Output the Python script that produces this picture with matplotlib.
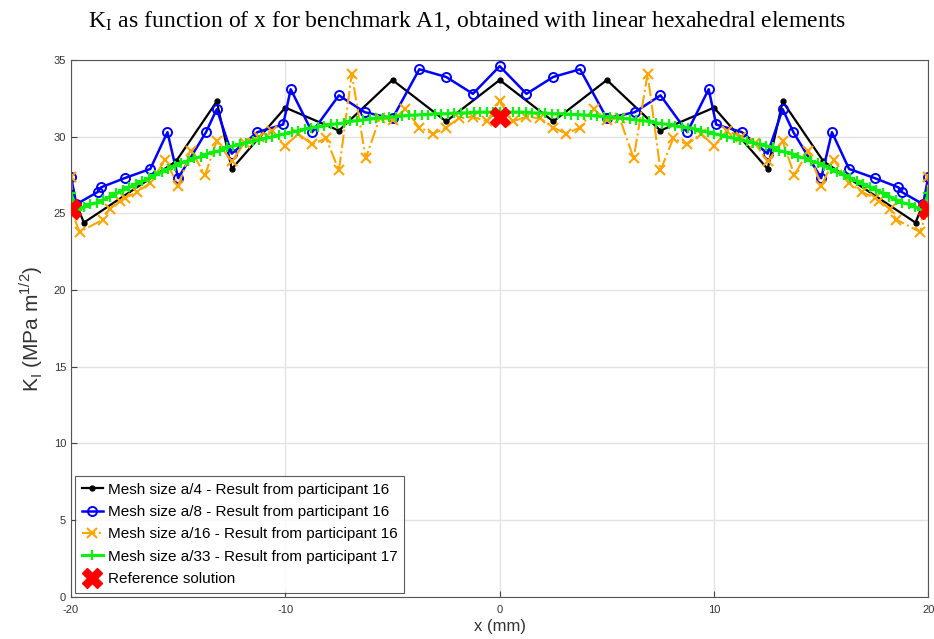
import numpy as np
import matplotlib
matplotlib.use("Agg")
import matplotlib.pyplot as plt

plt.rcParams['font.family'] = ['Liberation Sans', 'DejaVu Sans']
plt.rcParams['mathtext.fontset'] = 'custom'
plt.rcParams['mathtext.rm'] = 'Liberation Sans'
plt.rcParams['axes.unicode_minus'] = False

# Mesh size a/4 - participant 16
x_a4 = [-20, -19.4, -15.1, -13.2, -12.5, -10, -7.5, -5, -2.5, 0,
        2.5, 5, 7.5, 10, 12.5, 13.2, 15.1, 19.4, 20]
k_a4 = [26.5, 24.4, 28.4, 32.3, 27.9, 31.9, 30.4, 33.7, 31.0, 33.7,
        31.0, 33.7, 30.4, 31.9, 27.9, 32.3, 28.4, 24.4, 26.5]

# Mesh size a/8 - participant 16
x_a8 = [-20, -19.75, -18.75, -18.6, -17.5, -16.3, -15.5, -15.0, -13.7, -13.2,
        -12.5, -11.3, -10.1, -9.75, -8.75, -7.5, -6.3, -5.0, -3.75, -2.5,
        -1.25, 0,
        1.25, 2.5, 3.75, 5.0, 6.3, 7.5, 8.75, 9.75, 10.1, 11.3,
        12.5, 13.2, 13.7, 15.0, 15.5, 16.3, 17.5, 18.6, 18.75, 19.75, 20]
k_a8 = [27.4, 25.6, 26.4, 26.7, 27.3, 27.9, 30.3, 27.3, 30.3, 31.8,
        28.9, 30.3, 30.8, 33.1, 30.3, 32.7, 31.6, 31.2, 34.4, 33.9,
        32.8, 34.6,
        32.8, 33.9, 34.4, 31.2, 31.6, 32.7, 30.3, 33.1, 30.8, 30.3,
        28.9, 31.8, 30.3, 27.3, 30.3, 27.9, 27.3, 26.7, 26.4, 25.6, 27.4]

# Mesh size a/16 - participant 16
x_a16 = [-20, -19.9, -19.6, -18.5, -18.2, -17.7, -17.5, -16.9, -16.3, -15.6,
         -15.0, -14.4, -13.75, -13.2, -12.5, -11.9, -11.25, -10.6, -10.0, -9.4,
         -8.75, -8.1, -7.5, -6.9, -6.25, -5.6, -5.0, -4.4, -3.75, -3.1,
         -2.5, -1.9, -1.25, -0.6, 0,
         0.6, 1.25, 1.9, 2.5, 3.1, 3.75, 4.4, 5.0, 5.6, 6.25,
         6.9, 7.5, 8.1, 8.75, 9.4, 10.0, 10.6, 11.25, 11.9, 12.5,
         13.2, 13.75, 14.4, 15.0, 15.6, 16.3, 16.9, 17.5, 17.7, 18.2,
         18.5, 19.6, 19.9, 20]
k_a16 = [27.4, 24.9, 23.8, 24.6, 25.3, 25.8, 26.0, 26.4, 27.0, 28.5,
         26.8, 29.1, 27.5, 29.7, 28.4, 29.6, 30.0, 30.4, 29.4, 30.2,
         29.5, 29.9, 27.8, 34.1, 28.6, 31.2, 31.1, 31.8, 30.6, 30.2,
         30.6, 31.2, 31.3, 31.0, 32.3,
         31.0, 31.3, 31.2, 30.6, 30.2, 30.6, 31.8, 31.1, 31.2, 28.6,
         34.1, 27.8, 29.9, 29.5, 30.2, 29.4, 30.4, 30.0, 29.6, 28.4,
         29.7, 27.5, 29.1, 26.8, 28.5, 27.0, 26.4, 26.0, 25.8, 25.3,
         24.6, 23.8, 24.9, 27.4]

# Mesh size a/33 - participant 17 (uniform mesh from -20 to 20 mm)
k_a33 = [26.3, 25.2, 25.4, 25.6, 25.7, 25.9, 26.1, 26.3, 26.5, 26.7,
         26.9, 27.1, 27.3, 27.5, 27.7, 27.9, 28.1, 28.3, 28.4, 28.6,
         28.7, 28.9, 29.0, 29.1, 29.3, 29.4, 29.5, 29.6, 29.7, 29.8,
         29.9, 30.0, 30.1, 30.2, 30.3, 30.4, 30.5, 30.6, 30.65, 30.7,
         30.8, 30.85, 30.9, 31.0, 31.05, 31.1, 31.15, 31.2, 31.25, 31.3,
         31.3, 31.35, 31.4, 31.4, 31.45, 31.45, 31.5, 31.5, 31.5, 31.55,
         31.55, 31.55, 31.6, 31.6, 31.6, 31.6, 31.6,
         31.6, 31.6, 31.6, 31.6, 31.55, 31.55, 31.55, 31.5, 31.5, 31.5,
         31.45, 31.45, 31.4, 31.4, 31.35, 31.3, 31.3, 31.25, 31.2, 31.15,
         31.1, 31.05, 31.0, 30.9, 30.85, 30.8, 30.7, 30.65, 30.6, 30.5,
         30.4, 30.3, 30.2, 30.1, 30.0, 29.9, 29.8, 29.7, 29.6, 29.5,
         29.4, 29.3, 29.1, 29.0, 28.9, 28.7, 28.6, 28.4, 28.3, 28.1,
         27.9, 27.7, 27.5, 27.3, 27.1, 26.9, 26.7, 26.5, 26.3, 26.1,
         25.9, 25.7, 25.6, 25.4, 25.2, 26.3]
x_a33 = np.linspace(-20, 20, len(k_a33))

# Reference solution
x_ref = [-20, 0, 20]
k_ref = [25.3, 31.3, 25.3]

fig = plt.figure(figsize=(9.34, 6.39), dpi=100)
ax = fig.add_axes([0.076, 0.066, 0.918, 0.840])

ax.plot(x_a4, k_a4, '-', color='black', marker='.', markersize=7, linewidth=1.6,
        label='Mesh size a/4 - Result from participant 16')
ax.plot(x_a8, k_a8, '-', color='#0000ff', marker='o', markersize=6.5, markerfacecolor='none',
        markeredgewidth=1.4, linewidth=1.8, label='Mesh size a/8 - Result from participant 16')
ax.plot(x_a16, k_a16, '-.', color='#ffa500', marker='x', markersize=7, markeredgewidth=1.5,
        linewidth=1.5, label='Mesh size a/16 - Result from participant 16')
ax.plot(x_a33, k_a33, '-', color='#11ee11', marker='+', markersize=7, markeredgewidth=1.6,
        linewidth=2.2, label='Mesh size a/33 - Result from participant 17')
ax.plot(x_ref, k_ref, linestyle='none', color='red', marker='X', markersize=14,
        markeredgecolor='red', label='Reference solution', zorder=5)

ax.set_xlim(-20, 20)
ax.set_ylim(0, 35)
ax.set_xticks([-20, -10, 0, 10, 20])
ax.set_yticks(np.arange(0, 36, 5))
ax.grid(True, color='#e3e3e3', linewidth=1.0)
ax.set_axisbelow(True)
ax.tick_params(direction='in', labelsize=8, labelcolor='#333333', color='#444444', length=4)
ax.tick_params(axis='x', pad=6)
for s in ax.spines.values():
    s.set_color('#555555')

ax.set_xlabel('x (mm)', fontsize=12, color='#333333', labelpad=3)
ax.set_ylabel(r'K$_\mathregular{I}$ (MPa m$^\mathregular{1/2}$)', fontsize=15, color='#333333', labelpad=6)

leg = ax.legend(loc='lower left', fontsize=11, numpoints=1, handlelength=1.4,
                handletextpad=0.3, borderpad=0.45, labelspacing=0.55, fancybox=False,
                borderaxespad=0.25)
leg.get_frame().set_edgecolor('#333333')
leg.get_frame().set_linewidth(0.8)

fig.text(0.5, 0.967, r'K$_\mathregular{I}$ as function of x for benchmark A1, obtained with linear hexahedral elements',
         ha='center', va='center', fontsize=17, family=['Liberation Serif', 'DejaVu Serif'],
         math_fontfamily='stix')

fig.savefig('out.png', dpi=100)
